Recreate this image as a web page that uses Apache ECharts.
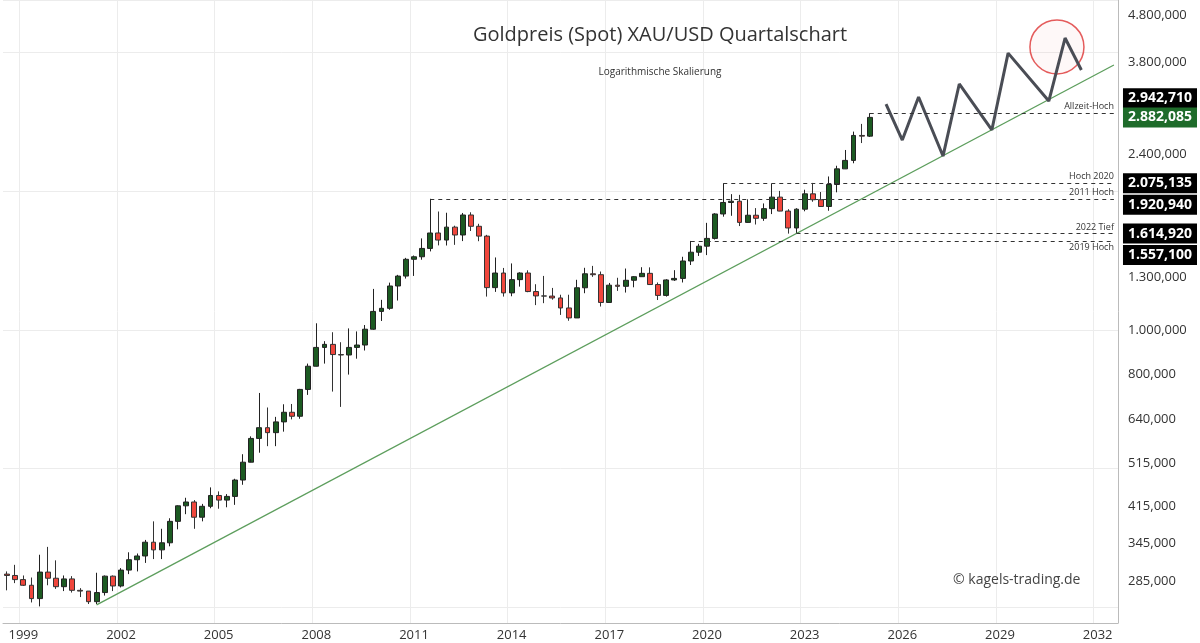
<!DOCTYPE html>
<html><head><meta charset="utf-8">
<script src="https://cdn.jsdelivr.net/npm/echarts@6/dist/echarts.min.js"></script>
<style>html,body{margin:0;padding:0;background:#fff}#c{width:1200px;height:643px}</style>
</head><body><div id="c"></div>
<script>
// Quarterly candles 1998Q3 .. 2025Q1 (USD)
const opens  = [296,294,288,280,262,299,290,278,289,273,272,258,270,293,279,302,318,324,347,334,346,385,416,424,393,415,438,428,436,473,517,582,614,599,632,663,650,743,834,916,930,884,882,916,927,1003,1096,1113,1244,1307,1421,1439,1500,1620,1564,1668,1604,1772,1675,1595,1234,1327,1202,1284,1327,1210,1184,1183,1172,1115,1061,1233,1322,1316,1146,1249,1242,1280,1303,1325,1253,1187,1282,1292,1409,1472,1517,1577,1781,1886,1898,1708,1770,1743,1829,1937,1807,1661,1824,1969,1912,1849,2063,2230,2326,2634,2625];
const closes = [294,288,280,262,299,290,278,289,273,272,258,270,293,279,302,318,324,347,334,346,385,416,424,393,415,438,428,436,473,517,582,614,599,632,663,650,743,834,916,930,884,882,916,927,1003,1096,1113,1244,1307,1421,1439,1500,1620,1564,1668,1604,1772,1675,1595,1234,1327,1202,1284,1327,1210,1184,1183,1172,1115,1061,1233,1322,1316,1146,1249,1242,1280,1303,1325,1253,1187,1282,1292,1409,1472,1517,1577,1781,1886,1898,1708,1770,1743,1829,1937,1807,1661,1824,1969,1912,1849,2063,2230,2326,2634,2625,2882];
const lows   = [273,283,279,257,252,280,275,272,270,264,255,255,266,272,277,296,300,313,319,319,340,370,399,371,385,411,410,413,418,462,525,542,560,560,602,640,642,723,833,845,735,681,800,866,902,1000,1045,1105,1157,1291,1308,1418,1478,1523,1522,1527,1556,1636,1555,1180,1208,1180,1182,1240,1206,1131,1142,1162,1077,1046,1061,1200,1302,1123,1146,1214,1204,1236,1303,1250,1160,1180,1276,1266,1381,1445,1451,1568,1757,1765,1677,1705,1690,1721,1780,1805,1615,1618,1805,1893,1848,1810,1984,2228,2293,2536,2614];
const highs  = [300,310,294,291,326,339,317,294,293,276,272,298,294,294,305,330,328,351,385,371,391,417,433,428,420,456,447,441,476,538,588,730,679,648,690,691,745,845,1033,945,988,940,1007,992,1024,1226,1161,1265,1315,1431,1448,1577,1921,1803,1792,1680,1790,1796,1696,1605,1434,1361,1392,1332,1345,1255,1308,1232,1191,1191,1283,1362,1375,1337,1263,1296,1357,1307,1366,1365,1266,1287,1346,1439,1557,1535,1704,1788,2075,1966,1959,1916,1834,1877,2070,1998,1824,1833,2010,2079,1987,2147,2265,2450,2685,2790,2943];
const startYear = 1998, startQuarter = 3, quarterCount = 137;
const yTicks = [285,345,415,515,640,800,1000,1300,1600,1900,2400,3000,3800,4800];
const yHiddenLabels = [1600,1900,3000];
const levelValues = [2942.710,2882.085,2075.135,1920.940,1614.920,1557.100];
const levelNames = ['Allzeit-Hoch',null,'Hoch 2020','2011 Hoch','2022 Tief','2019 Hoch'];
const levelStart = [106,null,88,52,97,84];
const projIdx = [108,110,112,115,117,121,123,128,130,132];
const projVal = [3080,2574,3190,2377,3404,2707,3970,3127,4280,3650];
const trendIdx = [11,136], trendVal = [254,3742];
const circleIdx = 129, circleVal = 4093;
// label box vertical nudge in px (negative = up), to separate stacked boxes
const boxShift = [-15,0,0,6,0,14];

const L = v => Math.log10(v);
const cats = [];
for (let i=0;i<quarterCount;i++){const q=startQuarter-1+i;cats.push((startYear+Math.floor(q/4))+'-Q'+(q%4+1));}
const isTick = (i)=>{const c=cats[i];return c.endsWith('Q1') && (parseInt(c)-1999)%3===0;};
const de = v => v.toLocaleString('de-DE',{minimumFractionDigits:3,maximumFractionDigits:3});
const candle = opens.map((o,i)=>[L(o),L(closes[i]),L(lows[i]),L(highs[i])]);
const mlData = [];
levelValues.forEach((v,k)=>{ if(levelStart[k]==null) return;
  const pos = levelNames[k]==='2019 Hoch' ? 'insideEndBottom':'insideEndTop';
  mlData.push([{coord:[levelStart[k],L(v)],label:{formatter:levelNames[k],position:pos}},{coord:[136,L(v)]}]);
});
const ymin=L(232), ymax=L(5173);
const nearest = v => levelValues.reduce((b,x,i)=>Math.abs(L(x)-v)<Math.abs(L(levelValues[b])-v)?i:b,0);
const spacers = {};
for (let h=2;h<=40;h+=2) spacers['s'+h]={height:h,width:1,lineHeight:h};
const boxAxis = (parity) => ({type:'value',position:'right',min:ymin,max:ymax,axisLine:{show:false},axisTick:{show:false},splitLine:{show:false},
    axisLabel:{customValues:levelValues.filter((x,i)=>i%2===parity).map(L),margin:5,hideOverlap:false,
     formatter:(v)=>{const k=nearest(v);const box=(k===1?'{g|':'{b|')+de(levelValues[k])+'}';const s=boxShift[k];
       if(s<0) return box+'\n{s'+(-2*s)+'|}'; if(s>0) return '{s'+(2*s)+'|}\n'+box; return box;},
     rich:Object.assign({b:{backgroundColor:'#000',color:'#fff',fontSize:14,fontWeight:'bold',padding:[3,5,3,5],fontFamily:'Open Sans'},
           g:{backgroundColor:'#1e6b2a',color:'#fff',fontSize:14,fontWeight:'bold',padding:[3,5,3,5],fontFamily:'Open Sans'}},spacers)}});
const chart = echarts.init(document.getElementById('c'));
chart.setOption({
  animation:false,
  title:[{text:'Goldpreis (Spot) XAU/USD Quartalschart',left:655,top:20,textAlign:'center',textStyle:{fontSize:20,fontWeight:'normal',color:'#333',fontFamily:'Open Sans'}},
         {text:'Logarithmische Skalierung',left:655,top:62,textAlign:'center',textStyle:{fontSize:10,fontWeight:'normal',color:'#333',fontFamily:'Open Sans'}},
         {text:'© kagels-trading.de',left:948,top:568,textStyle:{fontSize:14,fontWeight:'normal',color:'#444',fontFamily:'Open Sans'}}],
  grid:{left:3,right:78,top:0,bottom:20},
  xAxis:{type:'category',data:cats,boundaryGap:true,
    axisLine:{lineStyle:{color:'#bbb'}},axisTick:{show:false},
    axisLabel:{interval:(i)=>isTick(i),formatter:v=>v.slice(0,4),color:'#333',fontSize:13,margin:6,fontFamily:'Open Sans'},
    splitLine:{show:true,interval:(i)=>isTick(i),lineStyle:{color:'#ececec'}}},
  yAxis:[{type:'value',position:'right',min:ymin,max:ymax,
    axisLine:{show:true,lineStyle:{color:'#bbb'}},axisTick:{show:false},
    axisLabel:{customValues:yTicks.map(L),formatter:v=>{const r=Math.round(Math.pow(10,v));return yHiddenLabels.includes(r)?'':de(r);},color:'#333',fontSize:13,margin:10,fontFamily:'Open Sans'},
    splitLine:{show:true,lineStyle:{color:'#ececec'}}},
    boxAxis(0), boxAxis(1)],
  series:[
   {type:'candlestick',data:candle,barWidth:'66%',
    itemStyle:{color:'#1c5a22',color0:'#f0463c',borderColor:'#222',borderColor0:'#333',borderWidth:1},
    markLine:{symbol:'none',silent:true,lineStyle:{type:[4,4],color:'#333',width:1},
      label:{color:'#333',fontSize:9,fontFamily:'Open Sans',distance:[0,2]},data:mlData}},
   {type:'line',data:trendIdx.map((x,i)=>[x,L(trendVal[i])]),symbol:'none',lineStyle:{color:'#5d9e5d',width:1.3},z:3},
   {type:'line',data:projIdx.map((x,i)=>[x,L(projVal[i])]),symbol:'none',lineStyle:{color:'#4a4d55',width:3},z:4},
   {type:'scatter',data:[[circleIdx,L(circleVal)]],symbolSize:54,itemStyle:{color:'rgba(240,120,120,0.07)',borderColor:'#d33',borderWidth:1.5},z:2}
  ]
});
</script></body></html>
